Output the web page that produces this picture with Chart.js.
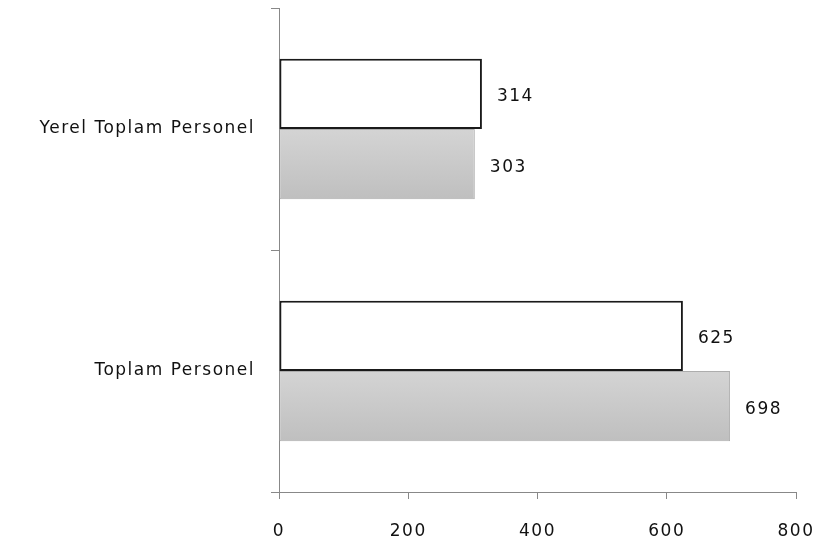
<!DOCTYPE html>
<html>
<head>
<meta charset="utf-8">
<script src="https://cdn.jsdelivr.net/npm/chart.js@4/dist/chart.umd.min.js"></script>
<style>
  html, body { margin: 0; padding: 0; background: #fff; }
  #wrap { width: 819px; height: 545px; }
</style>
</head>
<body>
<div id="wrap"><canvas id="personel" width="819" height="545"></canvas></div>
<script>
// chart values
const categories = ['Yerel Toplam Personel', 'Toplam Personel'];
const seriesA = [314, 625];   // white bars
const seriesB = [303, 698];   // grey bars
const xTicks = [0, 200, 400, 600, 800];

const FONT = '"DejaVu Sans", "Liberation Sans", sans-serif';
const SPACING = '1.5px';

// grey gradient per bar, top lighter than bottom
const greyFill = (c) => {
    const el = c.element;
    if (!el || el.y == null || isNaN(el.y)) return '#c8c8c8';
    const h = el.height || 70;
    const g = c.chart.ctx.createLinearGradient(0, el.y - h / 2, 0, el.y + h / 2);
    g.addColorStop(0, '#d4d4d4');
    g.addColorStop(1, '#bfbfbf');
    return g;
};

// the original text is drawn a bit wide, so spread the letters
const wideText = {
    id: 'wideText',
    beforeUpdate(chart) { chart.ctx.letterSpacing = SPACING; },
    beforeDraw(chart) { chart.ctx.letterSpacing = SPACING; }
};

// values written at the end of each bar
const valueLabels = {
    id: 'valueLabels',
    afterDatasetsDraw(chart) {
        const ctx = chart.ctx;
        ctx.save();
        ctx.font = '17px ' + FONT;
        ctx.fillStyle = '#111';
        ctx.textAlign = 'left';
        ctx.textBaseline = 'middle';
        chart.data.datasets.forEach((ds, i) => {
            chart.getDatasetMeta(i).data.forEach((bar, j) => {
                ctx.fillText(ds.data[j], bar.x + 15, bar.y + 3);
            });
        });
        ctx.restore();
    }
};

const ctx = document.querySelector('#personel');
const chart = new Chart(ctx, {
    type: 'bar',
    data: {
        labels: categories,
        datasets: [
            {
                data: seriesA,
                backgroundColor: '#ffffff',
                borderColor: '#1a1a1a',
                borderWidth: 2,
                borderSkipped: false
            },
            {
                data: seriesB,
                backgroundColor: greyFill,
                borderColor: '#adadad',
                borderWidth: 1,
                borderSkipped: false
            }
        ]
    },
    options: {
        indexAxis: 'y',
        responsive: false,
        animation: false,
        layout: { padding: { top: 8, right: 23, left: 0, bottom: 0 } },
        datasets: {
            bar: { categoryPercentage: 0.58, barPercentage: 1 }
        },
        plugins: {
            legend: { display: false },
            tooltip: { enabled: false }
        },
        scales: {
            x: {
                min: 0,
                max: 800,
                afterBuildTicks: (scale) => { scale.ticks = xTicks.map(v => ({ value: v })); },
                afterFit: (scale) => {
                    scale.height = 53;
                    scale.paddingLeft = 0;
                    scale.paddingRight = 0;
                },
                border: { display: true, color: '#888', width: 1 },
                grid: { drawOnChartArea: false, drawTicks: true, tickLength: 7, color: '#888' },
                ticks: { color: '#111', font: { size: 17, family: FONT }, padding: 22 }
            },
            y: {
                afterFit: (scale) => {
                    scale.width = 279;
                    scale.paddingTop = 0;
                    scale.paddingBottom = 0;
                },
                border: { display: true, color: '#888', width: 1 },
                grid: { offset: true, drawOnChartArea: false, drawTicks: true, tickLength: 8, color: '#888' },
                ticks: { color: '#111', font: { size: 17, family: FONT }, padding: 16 }
            }
        }
    },
    plugins: [wideText, valueLabels]
});
// second pass so the gradient knows where each bar sits
chart.update('none');
</script>
</body>
</html>
